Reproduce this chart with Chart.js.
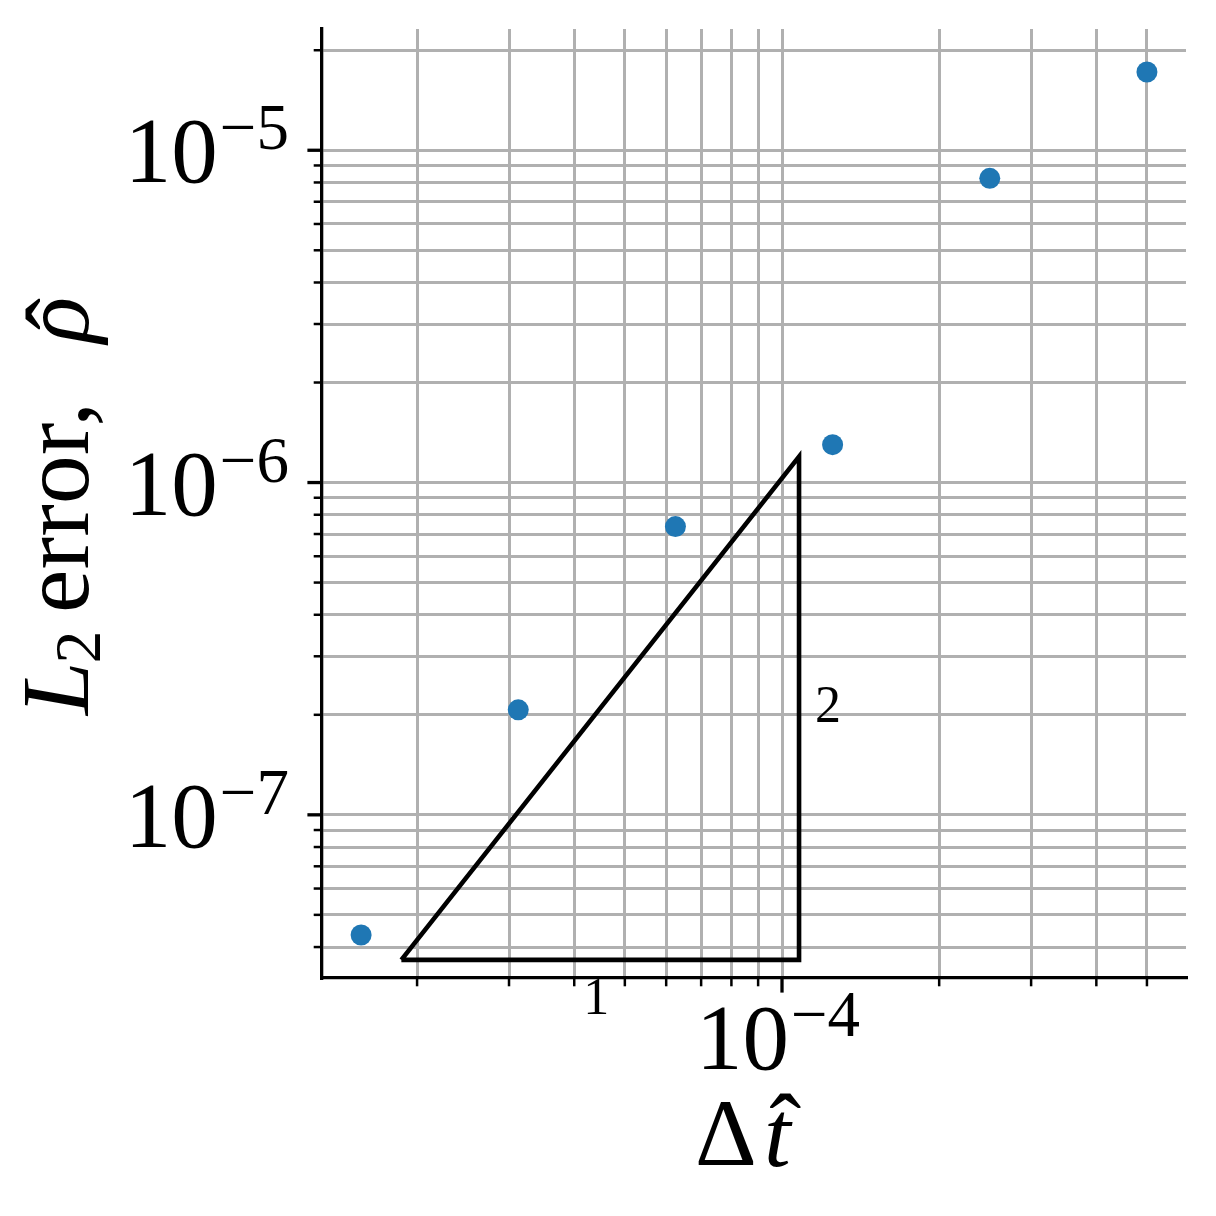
<!DOCTYPE html>
<html><head><meta charset="utf-8">
<script src="https://cdn.jsdelivr.net/npm/chart.js@4.4.1/dist/chart.umd.min.js"></script>
<style>
html,body{margin:0;padding:0;background:#fff;}
#wrap{position:relative;width:1216px;height:1216px;}
</style></head><body>
<div id="wrap"><canvas id="chart" width="1216" height="1216"></canvas></div>
<script>
// ---------------- data ----------------
const timeSteps = [1.5625e-5, 3.125e-5, 6.25e-5, 1.25e-4, 2.5e-4, 5e-4];
const l2Errors  = [4.35e-8, 2.07e-7, 7.37e-7, 1.30e-6, 8.23e-6, 1.72e-5];
const triangleX = [1.866e-5, 1.078e-4, 1.078e-4, 1.866e-5];
const triangleY = [3.66e-8, 3.66e-8, 1.197e-6, 3.66e-8];
const slopeRunLabel = '1';
const slopeRiseLabel = '2';
const xMajorTicks = [1e-4];
const xMinorTicks = [2e-5, 3e-5, 4e-5, 5e-5, 6e-5, 7e-5, 8e-5, 9e-5, 2e-4, 3e-4, 4e-4, 5e-4];
const yMajorTicks = [1e-7, 1e-6, 1e-5];
const yMinorTicks = [4e-8, 5e-8, 6e-8, 7e-8, 8e-8, 9e-8,
                     2e-7, 3e-7, 4e-7, 5e-7, 6e-7, 7e-7, 8e-7, 9e-7,
                     2e-6, 3e-6, 4e-6, 5e-6, 6e-6, 7e-6, 8e-6, 9e-6, 2e-5];
const xTickBase = ['10'];
const xTickExp = ['−4'];
const yTickBase = ['10', '10', '10'];
const yTickExp = ['−7', '−6', '−5'];
const xRange = [1.315e-5, 5.94e-4];
const yRange = [3.228e-8, 2.317e-5];

// ---------------- drawing helpers ----------------
const SERIF = '"Liberation Serif", "DejaVu Serif", serif';
const BASE_PX = 93, SUP_PX = 65;

function drawPower(ctx, base, exp, anchorX, align, baseBaseline, supBaseline) {
  ctx.font = BASE_PX + 'px ' + SERIF;
  const wb = ctx.measureText(base).width;
  ctx.font = SUP_PX + 'px ' + SERIF;
  const ws = ctx.measureText(exp).width;
  const gap = 2;
  const total = wb + gap + ws;
  const x0 = align === 'right' ? anchorX - total : anchorX - total / 2;
  ctx.textAlign = 'left';
  ctx.textBaseline = 'alphabetic';
  ctx.font = BASE_PX + 'px ' + SERIF;
  ctx.fillText(base, x0, baseBaseline);
  ctx.font = SUP_PX + 'px ' + SERIF;
  ctx.fillText(exp, x0 + wb + gap, supBaseline);
}

const overlay = {
  id: 'overlay',
  afterDraw(chart) {
    const ctx = chart.ctx;
    const ca = chart.chartArea;
    const xs = chart.scales.x, ys = chart.scales.y;
    ctx.save();
    ctx.strokeStyle = '#000';
    ctx.fillStyle = '#000';
    ctx.lineCap = 'butt';
    // tick marks
    const tick = (x1, y1, x2, y2, w) => { ctx.lineWidth = w; ctx.beginPath(); ctx.moveTo(x1, y1); ctx.lineTo(x2, y2); ctx.stroke(); };
    yMajorTicks.forEach(v => { const y = ys.getPixelForValue(v); tick(ca.left - 14.6, y, ca.left, y, 3.3); });
    yMinorTicks.forEach(v => { const y = ys.getPixelForValue(v); tick(ca.left - 8.3, y, ca.left, y, 2.5); });
    xMajorTicks.forEach(v => { const x = xs.getPixelForValue(v); tick(x, ca.bottom, x, ca.bottom + 14.6, 3.3); });
    xMinorTicks.forEach(v => { const x = xs.getPixelForValue(v); tick(x, ca.bottom, x, ca.bottom + 8.3, 2.5); });

    // y tick labels
    yMajorTicks.forEach((v, i) => {
      const y = ys.getPixelForValue(v);
      drawPower(ctx, yTickBase[i], yTickExp[i], ca.left - 33, 'right', y + 32, y - 1);
    });
    // x tick labels
    xMajorTicks.forEach((v, i) => {
      const x = xs.getPixelForValue(v);
      drawPower(ctx, xTickBase[i], xTickExp[i], x - 4, 'center', ca.bottom + 91, ca.bottom + 58);
    });

    // slope labels
    const tx0 = xs.getPixelForValue(triangleX[0]);
    const tx1 = xs.getPixelForValue(triangleX[1]);
    const ty0 = ys.getPixelForValue(triangleY[0]);
    const ty1 = ys.getPixelForValue(triangleY[2]);
    ctx.font = '52px ' + SERIF;
    ctx.textAlign = 'center';
    ctx.textBaseline = 'middle';
    ctx.fillText(slopeRunLabel, (tx0 + tx1) / 2 - 4, ty0 + 40);
    ctx.textAlign = 'left';
    ctx.fillText(slopeRiseLabel, tx1 + 16, (ty0 + ty1) / 2);

    // x axis title: Δt̂
    ctx.textAlign = 'left';
    ctx.textBaseline = 'alphabetic';
    ctx.font = '96px ' + SERIF;
    ctx.fillText('Δ', 695, 1165);
    const tX = 764;
    ctx.font = 'italic 96px ' + SERIF;
    ctx.fillText('t', tX, 1166);
    const wt = ctx.measureText('t').width;
    ctx.font = '96px ' + SERIF;
    ctx.textAlign = 'center';
    ctx.fillText('ˆ', tX + wt / 2 + 8, 1166 - 6);

    // y axis title: L₂ error, ρ̂  (rotated)
    ctx.save();
    ctx.translate(88, 715);
    ctx.rotate(-Math.PI / 2);
    ctx.textAlign = 'left';
    ctx.textBaseline = 'alphabetic';
    ctx.font = 'italic 96px ' + SERIF;
    ctx.fillText('L', 0, 0);
    const wL = ctx.measureText('L').width;
    ctx.font = '66px ' + SERIF;
    ctx.fillText('2', wL - 2, 12);
    ctx.font = '98px ' + SERIF;
    ctx.fillText('error,', 102, 0);
    ctx.font = 'italic 96px ' + SERIF;
    const rhoX = 372;
    ctx.fillText('ρ', rhoX, 0);
    const wr = ctx.measureText('ρ').width;
    ctx.font = '96px ' + SERIF;
    ctx.textAlign = 'center';
    ctx.fillText('ˆ', rhoX + wr / 2 + 6, 4);
    ctx.restore();

    ctx.restore();
  }
};

const gridOpts = { color: '#b0b0b0', lineWidth: 3, drawTicks: false };
const borderOpts = { display: true, color: '#000', width: 3.3 };
const toTicks = (arr) => arr.slice().sort((a, b) => a - b).map(v => ({ value: v }));

new Chart(document.getElementById('chart'), {
  type: 'scatter',
  data: {
    datasets: [
      {
        label: 'L2 error',
        data: timeSteps.map((x, i) => ({ x: x, y: l2Errors[i] })),
        backgroundColor: '#1f77b4',
        borderWidth: 0,
        pointRadius: 10.5,
        pointHoverRadius: 10.5
      },
      {
        label: 'slope triangle',
        data: triangleX.map((x, i) => ({ x: x, y: triangleY[i] })),
        showLine: true,
        borderColor: '#000',
        borderWidth: 4.6,
        borderJoinStyle: 'miter',
        pointRadius: 0,
        pointHoverRadius: 0,
        fill: false,
        tension: 0
      }
    ]
  },
  options: {
    responsive: false,
    animation: false,
    devicePixelRatio: 1,
    layout: { padding: { top: 29, right: 30, left: 0, bottom: 0 } },
    plugins: { legend: { display: false }, tooltip: { enabled: false } },
    scales: {
      x: {
        type: 'logarithmic', position: 'bottom', bounds: 'data',
        min: xRange[0], max: xRange[1],
        afterBuildTicks: s => { s.min = xRange[0]; s.max = xRange[1]; s.ticks = toTicks(xMajorTicks.concat(xMinorTicks)); },
        afterFit: s => { s.height = 238; },
        grid: gridOpts, border: borderOpts,
        ticks: { display: false }, title: { display: false }
      },
      y: {
        type: 'logarithmic', position: 'left', bounds: 'data',
        min: yRange[0], max: yRange[1],
        afterBuildTicks: s => { s.min = yRange[0]; s.max = yRange[1]; s.ticks = toTicks(yMajorTicks.concat(yMinorTicks)); },
        afterFit: s => { s.width = 322; },
        grid: gridOpts, border: borderOpts,
        ticks: { display: false }, title: { display: false }
      }
    }
  },
  plugins: [overlay]
});
</script>
</body></html>
